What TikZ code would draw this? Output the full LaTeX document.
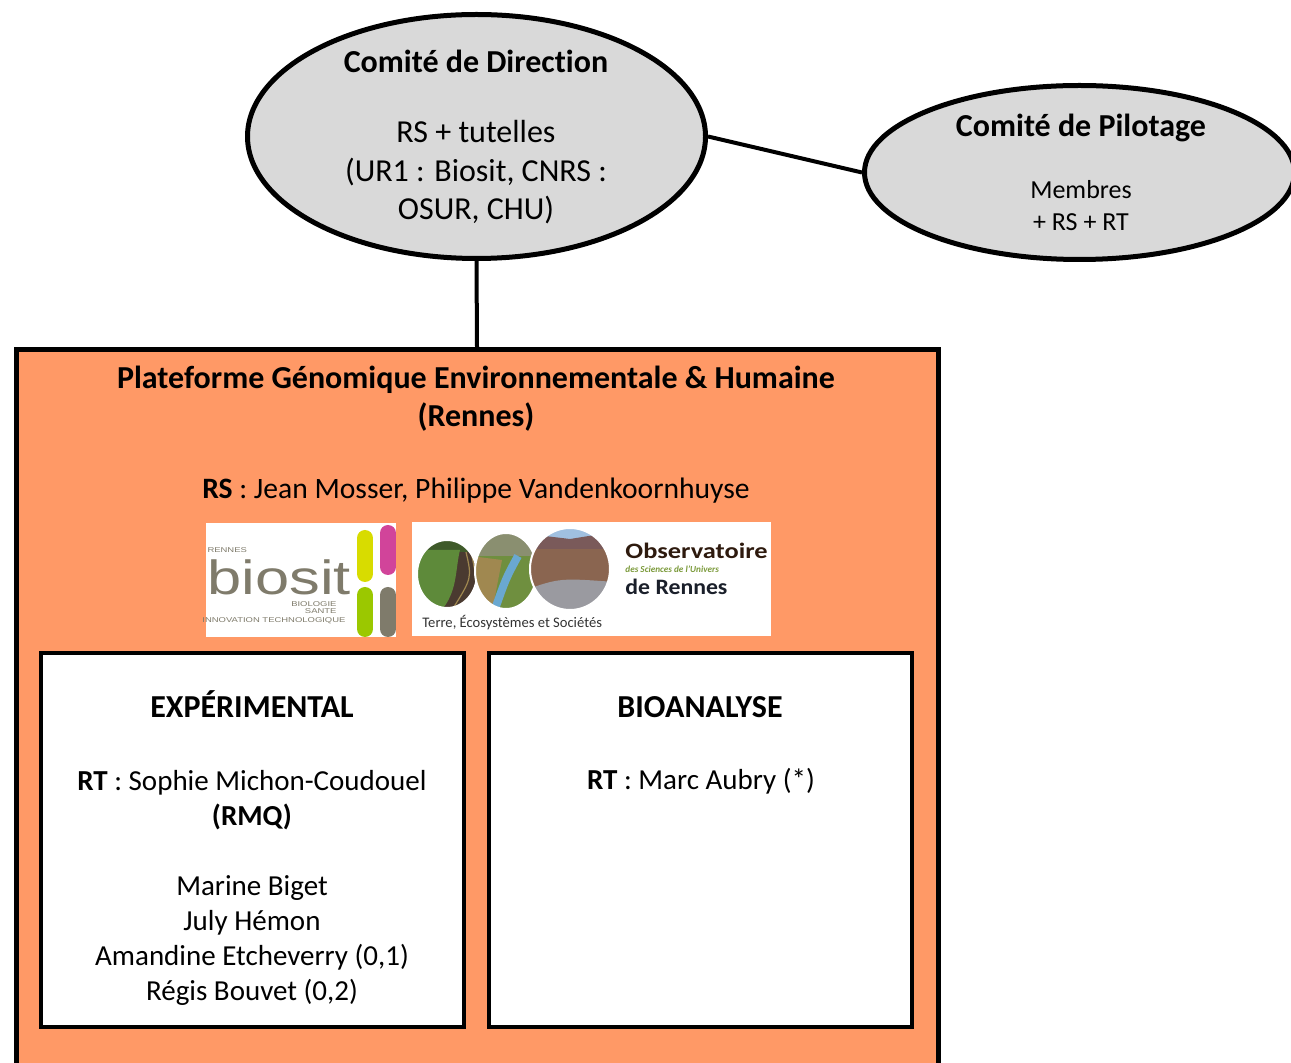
\documentclass[tikz,border=0pt]{standalone}
\usepackage{fontspec}
\setmainfont{Carlito}[Ligatures=NoCommon]
\newfontfamily\logofont{Liberation Sans}
\usetikzlibrary{shapes.geometric,positioning}
\definecolor{orangePf}{HTML}{FF9966}
\definecolor{grisComite}{HTML}{D9D9D9}
\definecolor{biositGris}{HTML}{7F7B6B}
\definecolor{biositJaune}{HTML}{D8DC00}
\definecolor{biositRose}{HTML}{D1449A}
\definecolor{biositVert}{HTML}{9BC800}
\definecolor{osurBrun}{HTML}{2E1A0E}
\definecolor{osurOlive}{HTML}{7B9A3A}
\definecolor{osurNuit}{HTML}{1A1F2A}
\definecolor{photoBrun}{HTML}{4A3A30}
\definecolor{photoForet}{HTML}{3F5A2A}
\definecolor{photoVert}{HTML}{5E8A3A}
\definecolor{photoPre}{HTML}{6F8F3F}
\definecolor{photoArbres}{HTML}{8A8F70}
\definecolor{photoRoseau}{HTML}{A08850}
\definecolor{photoEau}{HTML}{6AA8D0}
\definecolor{photoFalaise}{HTML}{8A6550}
\definecolor{photoCiel}{HTML}{A0C0E0}
\definecolor{photoMont}{HTML}{7A5A5A}
\definecolor{photoRoche}{HTML}{9A9AA0}
\begin{document}
\begin{tikzpicture}[x=0.5pt,y=-0.5pt,
  comite/.style = {draw, ellipse, line width=2.5pt, fill=grisComite, inner sep=0pt},
  cadre/.style = {draw, rectangle, line width=2.5pt, fill=orangePf, inner sep=0pt},
  pole/.style = {draw, rectangle, line width=2pt, fill=white, inner sep=0pt, minimum width=211.5pt, minimum height=187pt},
  logo/.style = {rectangle, fill=white, inner sep=0pt, minimum height=57pt},
  lien/.style = {line width=2pt},
  grand/.style = {font=\fontsize{16}{19.25}\selectfont, align=center, anchor=base},
  titre/.style = {grand, font=\fontsize{16}{19.25}\selectfont\bfseries},
  moyen/.style = {font=\fontsize{13}{16}\selectfont, align=center, anchor=base},
  petit/.style = {font=\fontsize{14.5}{17.5}\selectfont, align=center, anchor=base},
  mini/.style = {font=\logofont\fontsize{3.5}{4}\selectfont, text=biositGris, inner sep=0pt, xscale=1.35}]
\useasboundingbox (0,0) rectangle (1291,1063);
\clip (0,0) rectangle (1291,1063);
\fill[white] (0,0) rectangle (1291,1063);

% comites
\node[comite, minimum width=229pt, minimum height=122pt] (direction) at (476.5,136.5) {};
\node[comite, minimum width=215pt, minimum height=87pt] (pilotage) at (1079.5,172.5) {};
\node[grand] (directionTxt) at (476,220) {\textbf{Comité de Direction}\\[15.75pt]RS + tutelles\\(UR1 : Biosit, CNRS :\\OSUR, CHU)};
\node[titre] (pilotageTitre) at (1081,137) {Comité de Pilotage};
\node[moyen] (pilotageTxt) at (1081,231) {Membres\\+ RS + RT};

% plateforme
\node[cadre, minimum width=461pt, minimum height=375pt] (plateforme) at (477,724.5) {};
\node[titre] (plateformeTitre) at (476,427) {Plateforme Génomique Environnementale \& Humaine\\(Rennes)};
\node[grand, font=\fontsize{14.8}{18}\selectfont] (rsTxt) at (476,499) {\textbf{RS} : Jean Mosser, Philippe Vandenkoornhuyse};

\draw[lien] (direction.east) -- (pilotage.west);
\draw[lien] (direction.south) -- (plateforme.north);

% logos
\node[logo, minimum width=95pt] (biositLogo) at (301,580) {};
\node[logo, minimum width=179.5pt] (osurLogo) at (591.5,579) {};
\draw[biositJaune, line width=8pt, line cap=round] (365,538) -- (365,574);
\draw[biositRose, line width=8pt, line cap=round] (388,533) -- (388,567);
\draw[biositVert, line width=8pt, line cap=round] (365,595) -- (365,629);
\draw[biositGris, line width=8pt, line cap=round] (388,595) -- (388,629);
\node[anchor=base west, inner sep=0pt, text=biositGris, font=\logofont\fontsize{24}{24}\selectfont, xscale=1.28] (biositTxt) at (207,595) {biosit};
\node[mini, anchor=base west] (rennesTxt) at (207,553) {RENNES};
\node[mini, anchor=base east] (biologieTxt) at (337,607) {BIOLOGIE};
\node[mini, anchor=base east] (santeTxt) at (337,614) {SANTE};
\node[mini, anchor=base east] (innovationTxt) at (346,623) {INNOVATION TECHNOLOGIQUE};

\begin{scope}
\clip (447,574) ellipse [x radius=30, y radius=34];
\fill[photoBrun] (410,535) rectangle (485,612);
\fill[photoForet] (410,535) rectangle (485,552);
\fill[photoVert] (412,550) -- (460,550) .. controls (455,570) and (458,592) .. (440,612) -- (412,612) -- cycle;
\draw[photoRoseau, line width=0.6pt] (466,552) .. controls (472,578) .. (452,610);
\draw[photoRoseau, line width=0.6pt] (472,556) .. controls (478,586) .. (464,610);
\end{scope}
\draw[white, line width=1pt] (447,574) ellipse [x radius=30, y radius=34];
\begin{scope}
\clip (506,571) ellipse [x radius=31, y radius=38];
\fill[photoPre] (470,530) rectangle (540,612);
\fill[photoArbres] (470,530) rectangle (540,556);
\fill[photoRoseau] (470,556) -- (502,560) -- (492,612) -- (470,612) -- cycle;
\draw[photoEau, line width=4pt] (518,556) .. controls (506,578) .. (494,612);
\end{scope}
\draw[white, line width=1pt] (506,571) ellipse [x radius=31, y radius=38];
\begin{scope}
\clip (570,569) ellipse [x radius=40, y radius=41];
\fill[photoFalaise] (525,525) rectangle (615,615);
\fill[photoCiel] (525,525) rectangle (615,541);
\fill[photoMont] (525,541) -- (545,536) -- (570,539) -- (595,535) -- (615,538) -- (615,549) -- (525,549) -- cycle;
\fill[photoRoche] (525,590) .. controls (560,578) .. (615,582) -- (615,615) -- (525,615) -- cycle;
\end{scope}
\draw[white, line width=1pt] (570,569) ellipse [x radius=40, y radius=41];
\node[anchor=base west, inner sep=0pt, text=osurBrun, font=\fontsize{11}{11}\selectfont\bfseries, xscale=1.2] (osurTitre) at (625,559) {Observatoire};
\node[anchor=base west, inner sep=0pt, text=osurOlive, font=\fontsize{4.6}{5}\selectfont\bfseries\itshape] (osurSous) at (625,573) {des Sciences de l’Univers};
\node[anchor=base west, inner sep=0pt, text=osurNuit, font=\fontsize{11}{11}\selectfont\bfseries, xscale=1.08] (osurRennes) at (625,595) {de Rennes};
\node[anchor=base west, inner sep=0pt, text=black!80, font=\fontsize{7.3}{8}\selectfont] (osurBas) at (422,628) {Terre, Écosystèmes et Sociétés};

% poles
\node[pole] (expBox) at (252.5,840) {};
\node[pole, right=10.5pt of expBox] (bioBox) {};
\node[titre] (expTitre) at (252,718) {EXPÉRIMENTAL};
\node[titre] (bioTitre) at (700,718) {BIOANALYSE};
\node[petit] (expTxt) at (252,1000.5) {\textbf{RT} : Sophie Michon-Coudouel\\\textbf{(RMQ)}\\[17.5pt]Marine Biget\\July Hémon\\Amandine Etcheverry (0,1)\\Régis Bouvet (0,2)};
\node[petit] (bioTxt) at (701,789.5) {\textbf{RT} : Marc Aubry (*)};
\end{tikzpicture}
\end{document}
